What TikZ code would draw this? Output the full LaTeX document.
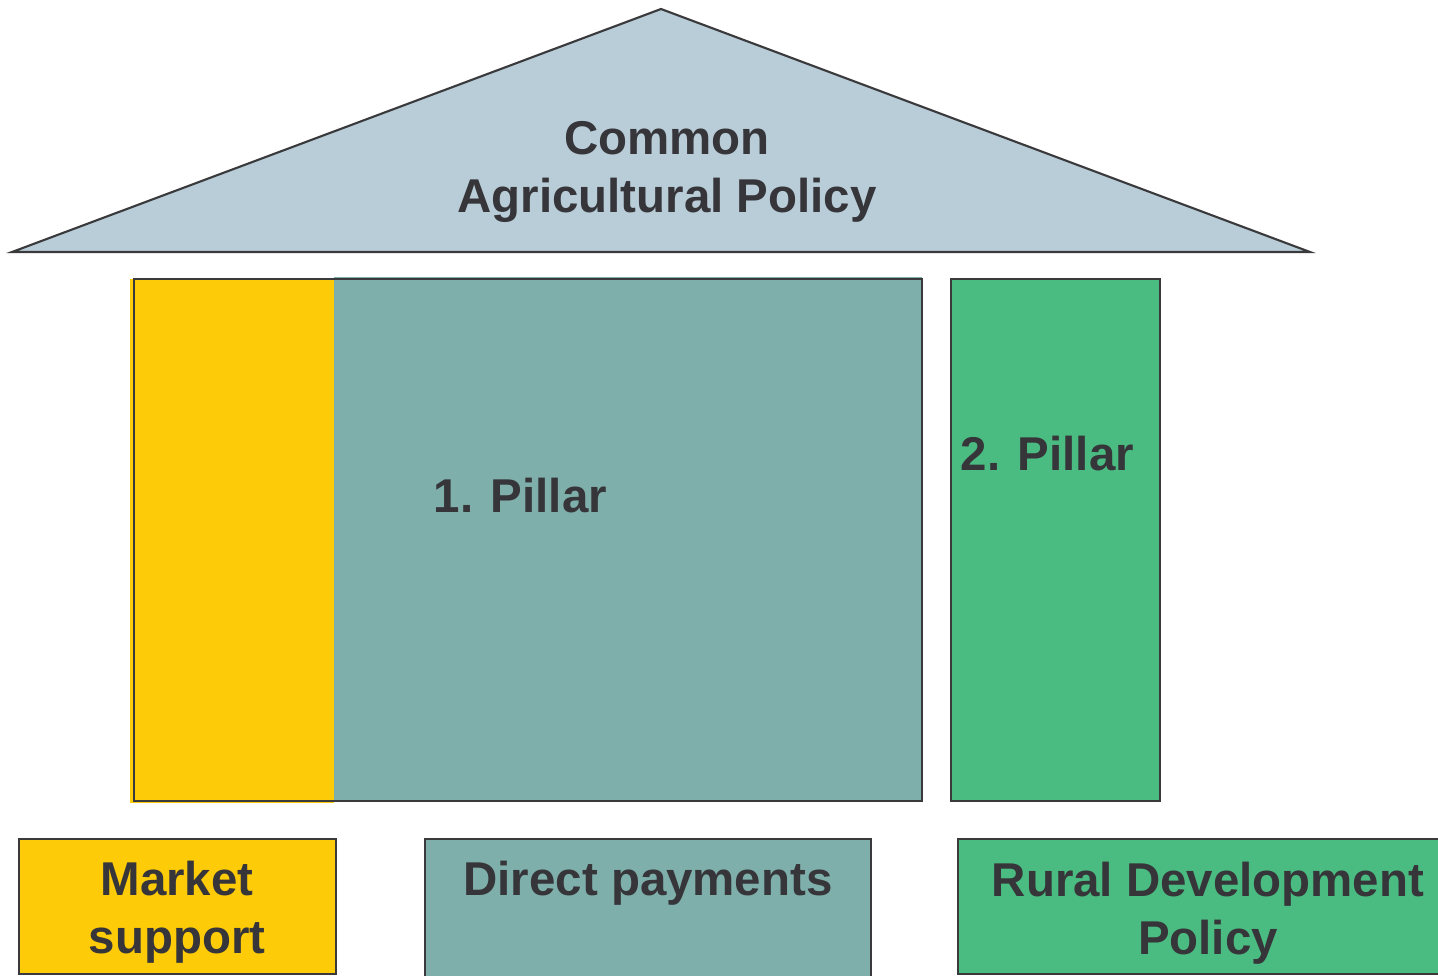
\documentclass[tikz,border=0pt]{standalone}
\usepackage{fontspec}
\setmainfont{Liberation Sans}
\definecolor{roofblue}{HTML}{B8CDD8}
\definecolor{marketyellow}{HTML}{FDCB08}
\definecolor{directteal}{HTML}{7FAFAA}
\definecolor{ruralgreen}{HTML}{4BBC81}
\definecolor{textgrey}{HTML}{363539}
\definecolor{linegrey}{HTML}{3A3A3C}
\tikzset{
  captext/.style={font=\fontsize{13.5}{16.5}\selectfont\bfseries, text=textgrey, align=center, inner sep=0pt},
  outline/.style={draw=linegrey, line width=0.6pt}
}
\begin{document}
\begin{tikzpicture}
        \useasboundingbox (0,0) rectangle (14.38,-9.76);
        % roof
        \draw [outline, fill=roofblue] (0.12,-2.52) -- (6.61,-0.09) -- (13.10,-2.52) -- cycle;
        \node [captext] (roof) at (6.67,-1.72) {Common\\Agricultural Policy};
        % first pillar: market support + direct payments
        \fill [marketyellow] (1.30,-2.79) rectangle (3.34,-8.03);
        \fill [directteal] (3.34,-2.77) rectangle (9.22,-8.01);
        \draw [outline] (1.34,-2.79) rectangle (9.22,-8.01);
        \node [captext, anchor=base west] (pillarone) at (4.33,-5.12) {1. Pillar};
        % second pillar
        \draw [outline, fill=ruralgreen] (9.51,-2.79) rectangle (11.60,-8.01);
        \node [captext, anchor=base west] (pillartwo) at (9.60,-4.70) {2. Pillar};
        % legend boxes
        \draw [outline, fill=marketyellow] (0.19,-8.39) rectangle (3.36,-9.74);
        \node [captext] (market) at (1.77,-9.12) {Market\\support};
        \draw [outline, fill=directteal] (4.25,-8.39) rectangle (8.71,-9.90);
        \node [captext, anchor=base] (direct) at (6.48,-8.95) {Direct payments};
        \draw [outline, fill=ruralgreen] (9.58,-8.39) rectangle (14.50,-9.74);
        \node [captext] (rural) at (12.08,-9.13) {Rural Development\\Policy};
      \end{tikzpicture}
\end{document}
